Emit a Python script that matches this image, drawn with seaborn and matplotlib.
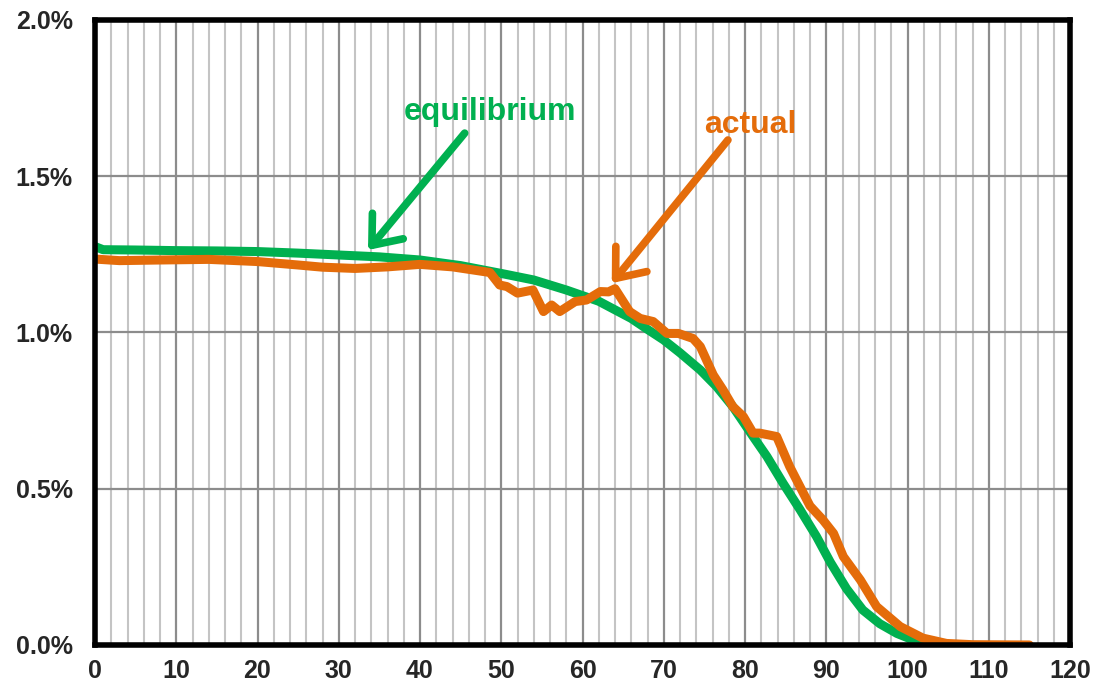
import numpy as np
import pandas as pd
import matplotlib
matplotlib.use("Agg")
import matplotlib.pyplot as plt
import seaborn as sns
from matplotlib.ticker import MultipleLocator, FuncFormatter

# --- datos (porcentaje) ---
eq_x = [0, 1, 5, 10, 15, 20, 25, 30, 35, 40, 45, 50, 54, 58, 62, 66, 68, 70, 72,
        74.5, 76.5, 78.5, 81, 82.7, 84.7, 86.8, 88.8, 90.5, 92.5, 94.5, 96.6,
        98.7, 100.7, 102.8, 105]
eq_y = [1.275, 1.265, 1.264, 1.262, 1.261, 1.259, 1.254, 1.248, 1.242, 1.232,
        1.214, 1.189, 1.168, 1.136, 1.100, 1.045, 1.010, 0.976, 0.935, 0.880,
        0.827, 0.763, 0.667, 0.603, 0.517, 0.432, 0.347, 0.265, 0.180, 0.112,
        0.068, 0.037, 0.016, 0.005, 0.0]

act_x = [0, 3, 8, 14, 20, 25, 28, 32, 36, 40, 44, 48.6, 49.8, 50.7, 52, 53.9,
         55.2, 56.2, 57.2, 59.1, 60.5, 62.2, 63.2, 64, 65.8, 67.1, 68.7, 70.4,
         71.8, 73.6, 74.5, 76.1, 77.3, 78.5, 79.8, 81, 81.8, 83.9, 85.5, 87.2,
         88, 89.6, 90.9, 92.1, 94.2, 96.2, 99.1, 101.9, 104.8, 108, 115]
act_y = [1.235, 1.230, 1.232, 1.234, 1.227, 1.216, 1.209, 1.205, 1.210, 1.218,
         1.210, 1.192, 1.152, 1.147, 1.126, 1.136, 1.067, 1.088, 1.067, 1.099,
         1.104, 1.131, 1.130, 1.140, 1.067, 1.045, 1.035, 0.997, 0.997, 0.981,
         0.955, 0.864, 0.816, 0.763, 0.731, 0.678, 0.678, 0.667, 0.571, 0.485,
         0.445, 0.400, 0.357, 0.283, 0.208, 0.123, 0.059, 0.022, 0.005, 0.001,
         0.0]

verde = "#00B050"
naranja = "#E46C0A"

sns.set_style("white")
plt.rcParams["font.family"] = ["Liberation Sans", "DejaVu Sans"]

fig = plt.figure(figsize=(10.98, 7), dpi=100)
ax = fig.add_axes([95 / 1098, 1 - 645 / 700, 975 / 1098, 625 / 700])

# rejilla
ax.xaxis.set_major_locator(MultipleLocator(10))
ax.xaxis.set_minor_locator(MultipleLocator(2))
ax.yaxis.set_major_locator(MultipleLocator(0.5))
ax.grid(which="minor", axis="x", color="#c4c4c4", linewidth=1.5)
ax.grid(which="major", axis="x", color="#8c8c8c", linewidth=1.6)
ax.grid(which="major", axis="y", color="#8c8c8c", linewidth=1.6)
ax.set_axisbelow(True)

sns.lineplot(x=eq_x, y=eq_y, ax=ax, color=verde, linewidth=6.5, sort=False,
             solid_capstyle="round", solid_joinstyle="round")
sns.lineplot(x=act_x, y=act_y, ax=ax, color=naranja, linewidth=6.5, sort=False,
             solid_capstyle="round", solid_joinstyle="round")

ax.set_xlim(0, 120)
ax.set_ylim(0, 2.0)
ax.yaxis.set_major_formatter(FuncFormatter(lambda v, p: f"{v:.1f}%"))

for s in ax.spines.values():
    s.set_visible(True)
    s.set_color("black")
    s.set_linewidth(4)

ax.tick_params(which="major", axis="both", length=6, width=1.5, color="#8c8c8c",
               direction="out", labelsize=18)
ax.tick_params(axis="x", pad=4)
ax.tick_params(axis="y", pad=10)
ax.tick_params(which="minor", length=0)
for lab in ax.get_xticklabels() + ax.get_yticklabels():
    lab.set_fontweight("bold")

# anotaciones
flecha = "->,head_length=1.0,head_width=0.8"
ax.annotate("", xy=(33.6, 1.264), xytext=(45.5, 1.638),
            arrowprops=dict(arrowstyle=flecha, color=verde, lw=5.5,
                            mutation_scale=18, shrinkA=0, shrinkB=0,
                            capstyle="round", joinstyle="round"))
ax.text(48.6, 1.706, "equilibrium", color=verde, fontsize=23,
        fontweight="bold", ha="center", va="center")

ax.annotate("", xy=(63.6, 1.158), xytext=(77.9, 1.616),
            arrowprops=dict(arrowstyle=flecha, color=naranja, lw=5.5,
                            mutation_scale=18, shrinkA=0, shrinkB=0,
                            capstyle="round", joinstyle="round"))
ax.text(80.6, 1.664, "actual", color=naranja, fontsize=23,
        fontweight="bold", ha="center", va="center")

ax.set_xlabel("")
ax.set_ylabel("")

plt.savefig("out.png", dpi=100)
